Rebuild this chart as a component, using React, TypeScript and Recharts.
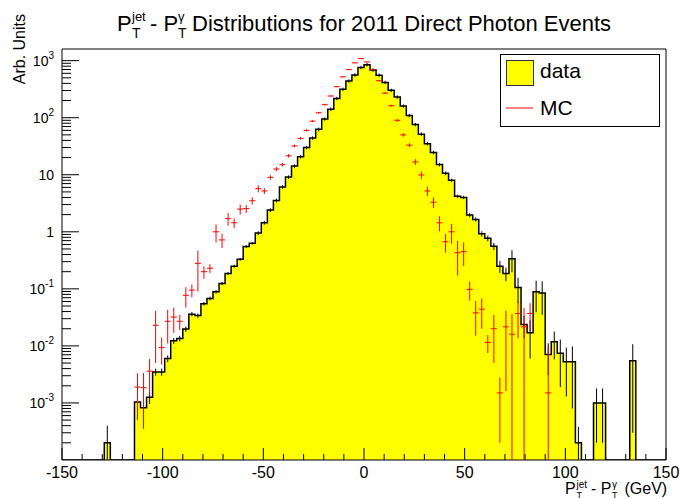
import React from 'react';
import { ComposedChart, Area, Scatter, XAxis, YAxis, ErrorBar, ReferenceArea } from 'recharts';

const FONT = "'Liberation Sans', Arial, Helvetica, sans-serif";
const X_DOMAIN: [number, number] = [-150, 150];
const Y_DOMAIN: [number, number] = [1e-4, 1600];
const BIN_WIDTH = 3;

// Data histogram: lower bin edge (GeV), content, error
const dataBinLow = [
  -129, -114, -111, -108, -105, -102, -99, -96, -93, -90, -87, -84, -81, -78, -75, -72, -69, -66, -63, -60,
  -57, -54, -51, -48, -45, -42, -39, -36, -33, -30, -27, -24, -21, -18, -15, -12, -9, -6, -3, 0,
  3, 6, 9, 12, 15, 18, 21, 24, 27, 30, 33, 36, 39, 42, 45, 48, 51, 54, 57, 60,
  63, 66, 69, 72, 75, 78, 81, 84, 87, 90, 93, 96, 99, 102, 105, 114, 117, 132,
];
const dataValues = [
  2.0e-4, 1.04e-3, 8.2e-4, 1.26e-3, 3.5e-3, 3.5e-3, 6.0e-3, 0.0123, 0.0135, 0.0197, 0.036, 0.034, 0.055, 0.068, 0.089, 0.124, 0.186, 0.25, 0.33, 0.55,
  0.63, 0.95, 1.44, 2.4, 3.55, 6.1, 9.1, 14.2, 20.7, 30, 44, 62.5, 95, 141, 218, 315, 440, 561, 760, 850,
  685, 557, 415, 302, 231, 160, 109, 76, 51.5, 35, 24.6, 15.1, 10.6, 8.0, 4.2, 4.0, 1.96, 1.65, 0.92, 0.77,
  0.56, 0.25, 0.186, 0.336, 0.106, 0.0237, 0.017, 0.089, 0.085, 0.0071, 0.0118, 0.0074, 0.0053, 0.0053, 2.0e-4, 1.0e-3, 1.0e-3, 0.0055,
];
const dataErrors = [
  2.0e-4, 5e-4, 4e-4, 3e-4, 5e-4, 5e-4, 8e-4, 1.5e-3, 1.5e-3, 2e-3, 3e-3, 3e-3, 4e-3, 5e-3, 6e-3, 8e-3, 0.011, 0.014, 0.018, 0.03,
  0.032, 0.07, 0.11, 0.18, 0.26, 0.43, 0.65, 1.0, 1.5, 2.1, 3.1, 4.4, 6.6, 10, 15, 22, 30, 38, 52, 58,
  47, 38, 29, 21, 16, 11, 7.5, 5.3, 3.6, 2.5, 1.8, 1.1, 0.8, 0.5, 0.28, 0.27, 0.16, 0.14, 0.1, 0.09,
  0.08, 0.06, 0.05, 0.14, 0.05, 0.01, 0.011, 0.05, 0.05, 0.004, 0.006, 0.0055, 0.004, 0.0045, 1.8e-4, 8e-4, 8e-4, 0.0052,
];

// MC: lower bin edge (GeV), content, error
const mcBinLow = [
  -114, -111, -108, -105, -102, -99, -96, -93, -90, -87, -84, -81, -78, -75, -72, -69, -66, -63, -60, -57,
  -54, -51, -48, -45, -42, -39, -36, -33, -30, -27, -24, -21, -18, -15, -12, -9, -6, -3, 0, 3,
  6, 9, 12, 15, 18, 21, 24, 27, 30, 33, 36, 39, 42, 45, 48, 51, 54, 57, 60, 63,
  66, 69, 72, 75, 78, 81, 90,
];
const mcValues = [
  1.9e-3, 1.85e-3, 3.6e-3, 0.023, 9.4e-3, 0.027, 0.032, 0.027, 0.077, 0.095, 0.28, 0.2, 0.23, 1.0, 0.72, 1.7, 1.44, 2.5, 2.55, 3.5,
  5.7, 5.2, 9.0, 12.6, 15, 21.5, 32, 43.5, 60, 87, 122, 169, 240, 350, 520, 697, 915, 1084, 950, 700,
  445, 270, 162, 90, 50, 33, 16.8, 9.9, 5.2, 3.3, 1.44, 0.67, 1.0, 0.43, 0.45, 0.098, 0.038, 0.044, 0.0115, 0.02,
  1.5e-3, 0.0216, 0.016, 0.037, 0.0216, 0.037, 1.5e-3,
];
const mcErrors = [
  1.4e-3, 1.5e-3, 2.3e-3, 0.018, 4.7e-3, 0.016, 0.015, 0.008, 0.03, 0.024, 0.19, 0.05, 0.04, 0.35, 0.2, 0.42, 0.28, 0.5, 0.4, 0.5,
  0.8, 0.6, 0.8, 1.0, 1.1, 1.4, 1.8, 2.2, 2.8, 3.5, 4.5, 5.5, 7, 9, 11, 13, 15, 17, 16, 13,
  11, 9, 7, 5, 3.5, 2.8, 2.0, 1.5, 1.0, 0.7, 0.42, 0.24, 0.38, 0.26, 0.2, 0.036, 0.023, 0.024, 0.004, 0.015,
  1.3e-3, 0.02, 0.02, 0.0235, 0.025, 0.019, 0.008,
];

const xTicks = [
  -150, -140, -130, -120, -110, -100, -90, -80, -70, -60, -50, -40, -30, -20, -10, 0,
  10, 20, 30, 40, 50, 60, 70, 80, 90, 100, 110, 120, 130, 140, 150,
];
const xLabelTicks = [-150, -100, -50, 0, 50, 100, 150];
const yDecades = [1e-4, 1e-3, 1e-2, 1e-1, 1, 10, 100, 1000];
const yMinorMultipliers = [2, 3, 4, 5, 6, 7, 8, 9];

// ---- derived structures ----
const yTicks: number[] = [];
yDecades.forEach((d) => {
  if (d > Y_DOMAIN[0]) yTicks.push(d);
  yMinorMultipliers.forEach((m) => {
    const v = m * d;
    if (v < Y_DOMAIN[1]) yTicks.push(v);
  });
});
yTicks.sort((a, b) => a - b);

// step outline of the data histogram (empty bins sit on the axis floor)
const stepPoints: { x: number; y: number }[] = [];
let cursor = X_DOMAIN[0];
dataBinLow.forEach((lo, i) => {
  const hi = lo + BIN_WIDTH;
  if (lo > cursor) {
    stepPoints.push({ x: cursor, y: Y_DOMAIN[0] });
    stepPoints.push({ x: lo, y: Y_DOMAIN[0] });
  }
  stepPoints.push({ x: lo, y: dataValues[i] });
  stepPoints.push({ x: hi, y: dataValues[i] });
  cursor = hi;
});
stepPoints.push({ x: cursor, y: Y_DOMAIN[0] });
stepPoints.push({ x: X_DOMAIN[1], y: Y_DOMAIN[0] });

const errPair = (v: number, e: number): [number, number] => [Math.min(e, v - Y_DOMAIN[0]), e];

const dataPoints = dataBinLow.map((lo, i) => ({
  x: lo + BIN_WIDTH / 2,
  y: dataValues[i],
  ey: errPair(dataValues[i], dataErrors[i]),
}));
const mcPoints = mcBinLow.map((lo, i) => ({
  x: lo + BIN_WIDTH / 2,
  y: mcValues[i],
  ey: errPair(mcValues[i], mcErrors[i]),
  ex: BIN_WIDTH / 2,
}));

const isDecade = (v: number) => Math.abs(Math.log10(v) - Math.round(Math.log10(v))) < 1e-6;

const YTick = (props: any) => {
  const { x, y, payload } = props;
  const v = payload.value as number;
  const major = isDecade(v);
  const e = Math.round(Math.log10(v));
  const len = major ? 17 : 9;
  return (
    <g>
      <line x1={x} x2={x + len} y1={y} y2={y} stroke="#000" strokeWidth={1} />
      {major && (
        <text x={x - 8} y={y + 5} textAnchor="end" fontSize={14} fontFamily={FONT} fill="#000">
          {e === 0 ? '1' : e === 1 ? '10' : (
            <>
              <tspan>10</tspan>
              <tspan dy={-7} fontSize={10}>{e}</tspan>
            </>
          )}
        </text>
      )}
    </g>
  );
};

const XTick = (props: any) => {
  const { x, y, payload } = props;
  const v = payload.value as number;
  const major = xLabelTicks.includes(v);
  return (
    <g>
      <line x1={x} x2={x} y1={y} y2={y - (major ? 12 : 6)} stroke="#000" strokeWidth={1} />
      {major && (
        <text x={x} y={y + 18} textAnchor="middle" fontSize={16} fontFamily={FONT} fill="#000">
          {v}
        </text>
      )}
    </g>
  );
};

const noShape = () => <g />;

export default function App() {
  return (
    <div style={{ position: 'absolute', left: 0, top: 0, width: 680, height: 499, background: '#fff' }}>
      <ComposedChart width={680} height={499} margin={{ top: 49, right: 14, left: 0, bottom: 0 }}>
        <Area
          data={stepPoints}
          dataKey="y"
          type="linear"
          baseValue={Y_DOMAIN[0]}
          fill="#ffff00"
          fillOpacity={1}
          stroke="#000"
          strokeWidth={1.5}
          dot={false}
          activeDot={false}
          isAnimationActive={false}
        />
        <Scatter data={dataPoints} dataKey="y" shape={noShape} isAnimationActive={false}>
          <ErrorBar dataKey="ey" direction="y" width={0} stroke="#000" strokeWidth={1} />
        </Scatter>
        <Scatter data={mcPoints} dataKey="y" shape={noShape} isAnimationActive={false}>
          <ErrorBar dataKey="ey" direction="y" width={0} stroke="#ff0000" strokeWidth={1} />
          <ErrorBar dataKey="ex" direction="x" width={0} stroke="#ff0000" strokeWidth={1} />
        </Scatter>
        <ReferenceArea
          x1={X_DOMAIN[0]}
          x2={X_DOMAIN[1]}
          y1={Y_DOMAIN[0]}
          y2={Y_DOMAIN[1]}
          fill="none"
          fillOpacity={0}
          stroke="#000"
          strokeWidth={1}
          ifOverflow="visible"
        />
        <XAxis
          dataKey="x"
          type="number"
          domain={X_DOMAIN}
          allowDataOverflow
          ticks={xTicks}
          interval={0}
          height={39}
          tickSize={0}
          tickMargin={0}
          tickLine={false}
          axisLine={false}
          tick={<XTick />}
        />
        <YAxis
          type="number"
          scale="log"
          domain={Y_DOMAIN}
          allowDataOverflow
          ticks={yTicks}
          interval={0}
          width={62}
          tickSize={0}
          tickMargin={0}
          tickLine={false}
          axisLine={false}
          tick={<YTick />}
        />
      </ComposedChart>
      <svg
        width={680}
        height={499}
        style={{ position: 'absolute', left: 0, top: 0, pointerEvents: 'none' }}
        fontFamily={FONT}
      >
        {/* title */}
        <g fill="#000">
          <text x={117} y={31} fontSize={22}>P</text>
          <text x={132} y={21} fontSize={13}>jet</text>
          <text x={132} y={38} fontSize={14}>T</text>
          <text x={150} y={31} fontSize={22}>- P</text>
          <text x={178} y={21} fontSize={13}>γ</text>
          <text x={178} y={38} fontSize={14}>T</text>
          <text x={192} y={31} fontSize={22}>Distributions for 2011 Direct Photon Events</text>
        </g>
        {/* y axis title */}
        <text x={25} y={14} fontSize={16} textAnchor="end" transform="rotate(-90, 25, 14)" fill="#000">
          Arb. Units
        </text>
        {/* x axis title */}
        <g fill="#000">
          <text x={565} y={494} fontSize={16}>P</text>
          <text x={576.5} y={488} fontSize={10}>jet</text>
          <text x={576.5} y={498} fontSize={9}>T</text>
          <text x={591} y={494} fontSize={16}>- P</text>
          <text x={612} y={488} fontSize={10}>γ</text>
          <text x={612} y={498} fontSize={9}>T</text>
          <text x={624.5} y={494} fontSize={16}>(GeV)</text>
        </g>
        {/* legend */}
        <rect x={500.5} y={54.5} width={159} height={72} fill="#fff" stroke="#000" strokeWidth={1} />
        <rect x={506.5} y={60.5} width={27} height={25} fill="#ffff00" stroke="#333" strokeWidth={1} />
        <text x={540} y={78} fontSize={21} fill="#000">data</text>
        <line x1={506} x2={533} y1={108} y2={108} stroke="#ff0000" strokeWidth={1} />
        <text x={540} y={115} fontSize={21} fill="#000">MC</text>
      </svg>
    </div>
  );
}
